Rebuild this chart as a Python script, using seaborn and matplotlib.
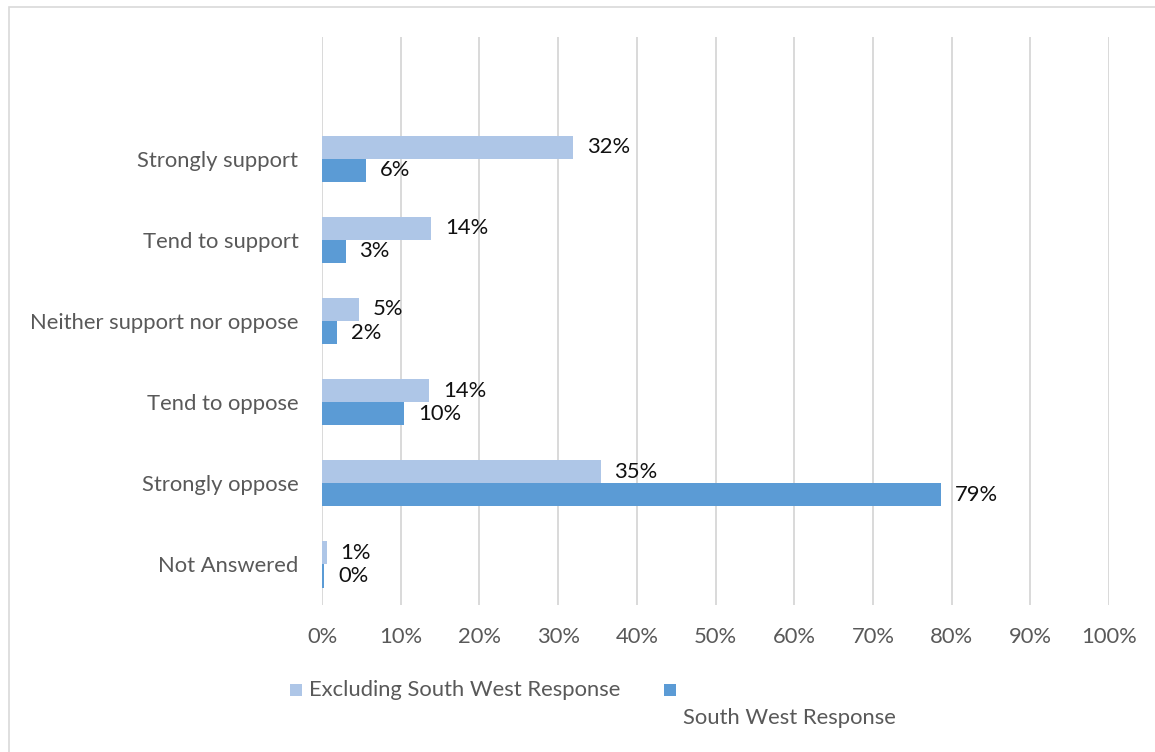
import matplotlib
matplotlib.use("Agg")
import matplotlib.pyplot as plt
from matplotlib.patches import Rectangle
import pandas as pd
import seaborn as sns

# Survey answers (percent of respondents)
categories = ["Strongly support", "Tend to support", "Neither support nor oppose",
              "Tend to oppose", "Strongly oppose", "Not Answered"]
series_names = ["Excluding South West Response", "South West Response"]
excluding_sw = [31.9, 13.9, 4.7, 13.6, 35.4, 0.6]
south_west = [5.6, 3.0, 1.9, 10.4, 78.7, 0.3]
x_ticks = list(range(0, 101, 10))
x_tick_labels = [f"{t}%" for t in x_ticks]

colors = ["#AEC6E7", "#5B9BD5"]
text_grey = "#595959"
grid_grey = "#D9D9D9"
fs = 15.8

df = pd.DataFrame({
    "category": categories * 2,
    "series": [series_names[0]] * len(categories) + [series_names[1]] * len(categories),
    "value": excluding_sw + south_west,
})

sns.set_theme(style="white")
plt.rcParams["font.family"] = ["Lato", "DejaVu Sans"]

fig = plt.figure(figsize=(11.55, 7.52), dpi=100)
W, H = 1155, 752
ax = fig.add_axes([322 / W, 1 - 605 / H, (1109 - 322) / W, (605 - 37) / H])

sns.barplot(data=df, y="category", x="value", hue="series", order=categories,
            hue_order=series_names, palette=colors, saturation=1, width=0.57,
            orient="h", linewidth=0, legend=False, ax=ax)

# value labels at the end of each bar
for container, vals in zip(ax.containers, [excluding_sw, south_west]):
    ax.bar_label(container, labels=[f"{v:.0f}%" for v in vals], padding=10,
                 fontsize=fs, color="#111111")

ax.set_xlim(0, 100)
ax.set_ylim(len(categories) - 0.5, -1.5)
ax.set_xticks(x_ticks)
ax.set_xticklabels(x_tick_labels)
ax.set_xlabel("")
ax.set_ylabel("")
ax.tick_params(axis="x", length=0, pad=16, labelsize=fs, labelcolor=text_grey)
ax.tick_params(axis="y", length=0, pad=17, labelsize=fs, labelcolor=text_grey)
ax.set_axisbelow(True)
ax.grid(axis="x", color=grid_grey, linewidth=1.4)
ax.grid(axis="y", visible=False)
for s in ax.spines.values():
    s.set_visible(False)

# legend drawn in figure coordinates
def fx(px):
    return px / W

def fy(py):
    return 1 - py / H

fig.patches.append(Rectangle((fx(290), fy(696)), 12 / W, 12 / H, transform=fig.transFigure,
                             facecolor=colors[0], edgecolor="none"))
fig.text(fx(309), fy(690), series_names[0], fontsize=fs, color=text_grey, va="center", ha="left")
fig.patches.append(Rectangle((fx(664), fy(696)), 12 / W, 12 / H, transform=fig.transFigure,
                             facecolor=colors[1], edgecolor="none"))
fig.text(fx(683), fy(718), series_names[1], fontsize=fs, color=text_grey, va="center", ha="left")

# chart area border
fig.patches.append(Rectangle((fx(9), fy(770)), 1.2, (770 - 7) / H, transform=fig.transFigure,
                             facecolor="none", edgecolor=grid_grey, linewidth=1.2))

fig.savefig("out.png", dpi=100, facecolor="white")
